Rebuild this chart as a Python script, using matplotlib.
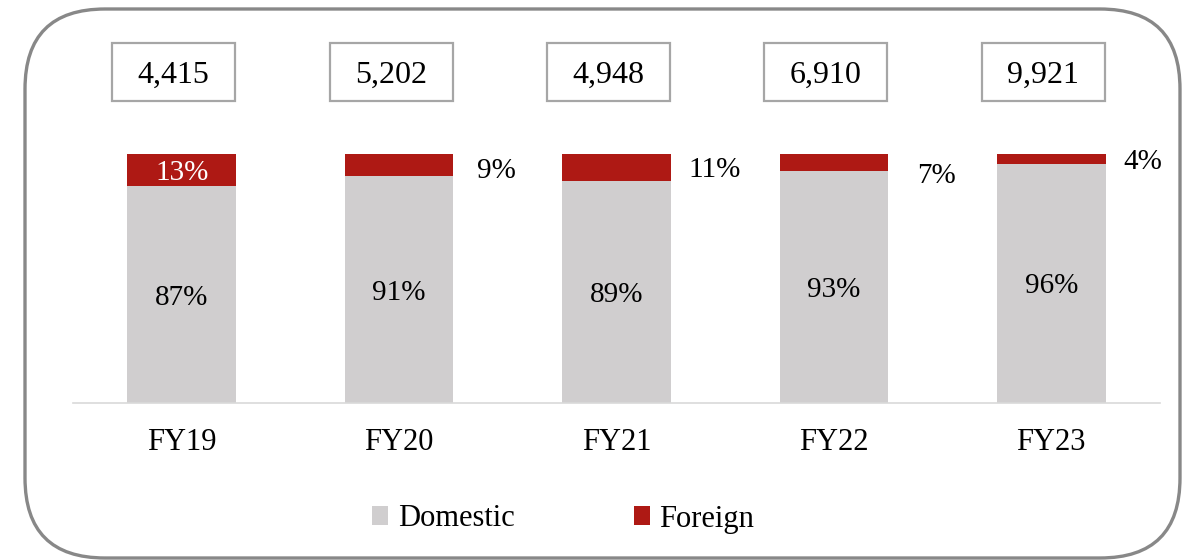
import matplotlib.pyplot as plt
import matplotlib.patches as mpatches
import numpy as np

# data
years = ["FY19", "FY20", "FY21", "FY22", "FY23"]
totals = ["4,415", "5,202", "4,948", "6,910", "9,921"]
domestic = [87, 91, 89, 93, 96]
foreign = [13, 9, 11, 7, 4]

grey = "#D0CECF"
red = "#AE1914"
plt.rcParams['font.family'] = ['Liberation Serif', 'DejaVu Serif']

fig = plt.figure(figsize=(11.88, 5.6), dpi=100)
W, H = 1188, 560
# axes: baseline at y=403 px, 100% at y=154 px
ax = fig.add_axes([73 / W, (H - 403) / H, (1160 - 73) / W, (403 - 154) / H])
x = np.arange(len(years))
ax.bar(x, domestic, width=0.5, color=grey, label="Domestic")
ax.bar(x, foreign, width=0.5, bottom=domestic, color=red, label="Foreign")
ax.set_xlim(-0.5, 4.5)
ax.set_ylim(0, 100)
for s in ["top", "right", "left"]:
    ax.spines[s].set_visible(False)
ax.spines["bottom"].set_color("#d9d9d9")
ax.spines["bottom"].set_linewidth(1.2)
ax.set_yticks([])
ax.set_xticks(x)
ax.set_xticklabels(years, fontsize=22)
ax.tick_params(axis="x", length=0, pad=18)

# labels
for i in range(len(years)):
    ax.text(x[i], domestic[i] / 2, f"{domestic[i]}%", ha="center", va="center_baseline",
            fontsize=21)
    if i == 0:
        ax.text(x[i], domestic[i] + foreign[i] / 2, f"{foreign[i]}%", ha="center",
                va="center_baseline", fontsize=21, color="white")
    else:
        dy = [0, -2.5, -0.8, -5.5, -1.4][i]
        dx = [0, 0.2, 0.2, 0.22, 0.17][i]
        ax.text(x[i] + 0.25 + dx, 100 - foreign[i] / 2 + dy, f"{foreign[i]}%",
                ha="center", va="center", fontsize=21)
    # total box
    bw, bh = 0.566, 23.3
    cx, cy = x[i] - 0.037, 132.9
    ax.add_patch(mpatches.Rectangle((cx - bw / 2, cy - bh / 2), bw, bh, fill=False,
                                    edgecolor="#a6a6a6", linewidth=1.6, clip_on=False))
    ax.text(cx, cy, totals[i], ha="center", va="center_baseline", fontsize=23)

fig.legend(loc="center", bbox_to_anchor=(563 / W, (H - 519) / H), ncol=2, frameon=False,
           fontsize=22, handlelength=0.55, handleheight=0.55, handletextpad=0.3,
           columnspacing=3.9)

# rounded outer frame in pixel coordinates
frame = mpatches.FancyBboxPatch((25, 2), 1155, 549, boxstyle="round,pad=0,rounding_size=80",
                                transform=None, fill=False, edgecolor="#888888", linewidth=2.4)
fig.patches.append(frame)

fig.savefig("out.png", dpi=100)
